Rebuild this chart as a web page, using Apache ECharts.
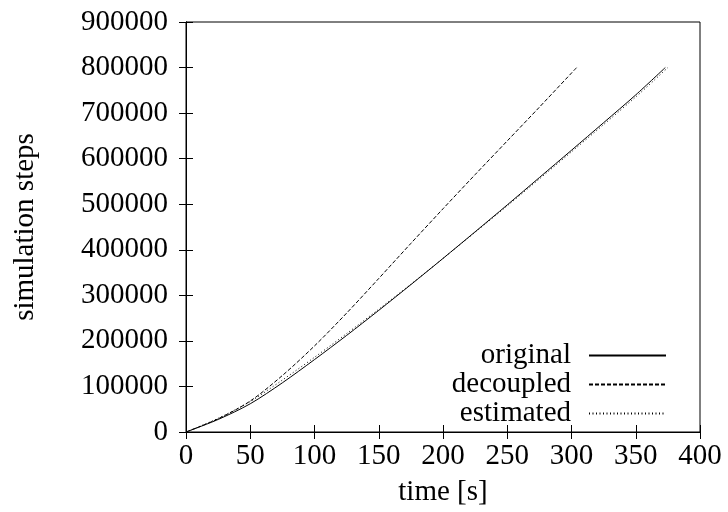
<!DOCTYPE html>
<html>
<head>
<meta charset="utf-8">
<script src="https://cdn.jsdelivr.net/npm/echarts@6/dist/echarts.min.js"></script>
<style>html,body{margin:0;padding:0;background:#fff;}#c{width:728px;height:512px;}</style>
</head>
<body>
<div id="c"></div>
<script>
var seriesNames = ['original', 'decoupled', 'estimated'];
var xTitle = 'time [s]';
var yTitle = 'simulation steps';

var originalT = [0, 25, 50, 75, 100, 125, 150, 175, 200, 225, 250, 275, 300, 325, 350, 373];
var originalV = [0, 27500, 62000, 108000, 159000, 212000, 267000, 323500, 381000, 439500, 498500, 558500, 618500, 679000, 740000, 800000];

var decoupledT = [0, 25, 50, 75, 100, 125, 150, 175, 200, 225, 250, 275, 304];
var decoupledV = [0, 29000, 68000, 124000, 189000, 261000, 337000, 414000, 490000, 565000, 639000, 713000, 800000];

var estimatedT = [0, 25, 50, 75, 100, 125, 150, 175, 200, 250, 300, 350, 375];
var estimatedV = [0, 30000, 67000, 114000, 164000, 216000, 269500, 324500, 381000, 496500, 615000, 735500, 800000];

function pairs(t, v) { return t.map(function (x, i) { return [x, v[i]]; }); }

var font = 'Liberation Serif';
var fs = 29;
var chart = echarts.init(document.getElementById('c'), null, { renderer: 'canvas' });
var tickStyle = { show: true, inside: true, length: 7, lineStyle: { color: '#000', width: 1 } };
chart.setOption({
  animation: false,
  backgroundColor: '#fff',
  textStyle: { fontFamily: font, color: '#000' },
  grid: { left: 186, right: 28, top: 22, bottom: 78, show: true, borderColor: '#000', borderWidth: 1, backgroundColor: 'transparent' },
  legend: {
    orient: 'vertical',
    align: 'right',
    right: 61,
    top: 341,
    padding: 0,
    itemWidth: 77,
    itemHeight: 14,
    itemGap: 0,
    itemStyle: { opacity: 0, borderWidth: 0 },
    textStyle: { fontFamily: font, fontSize: fs, color: '#000', lineHeight: 28.5, padding: [0, 13, 0, 0] },
    data: seriesNames
  },
  xAxis: [{
    type: 'value', min: 0, max: 400, interval: 50,
    name: xTitle, nameLocation: 'middle', nameGap: 46,
    nameTextStyle: { fontFamily: font, fontSize: fs, color: '#000' },
    axisLine: { show: true, onZero: false, lineStyle: { color: '#000', width: 1 } },
    axisTick: tickStyle,
    axisLabel: { fontFamily: font, fontSize: fs, color: '#000', margin: 10 },
    splitLine: { show: false }
  }, {
    type: 'value', min: 0, max: 400, interval: 50, position: 'top',
    axisLine: { show: true, lineStyle: { color: '#000', width: 1 } },
    axisTick: tickStyle, axisLabel: { show: false }, splitLine: { show: false }
  }],
  yAxis: [{
    type: 'value', min: 0, max: 900000, interval: 100000,
    name: yTitle, nameLocation: 'middle', nameGap: 146, nameRotate: 90,
    nameTextStyle: { fontFamily: font, fontSize: fs, color: '#000' },
    axisLine: { show: true, onZero: false, lineStyle: { color: '#000', width: 1 } },
    axisTick: tickStyle,
    axisLabel: { fontFamily: font, fontSize: fs, color: '#000', margin: 18, formatter: function (v) { return String(v); } },
    splitLine: { show: false }
  }, {
    type: 'value', min: 0, max: 900000, interval: 100000, position: 'right',
    axisLine: { show: true, lineStyle: { color: '#000', width: 1 } },
    axisTick: tickStyle, axisLabel: { show: false }, splitLine: { show: false }
  }],
  series: [{
    name: seriesNames[0], type: 'line', smooth: 0.3, symbol: 'none',
    lineStyle: { color: '#000', width: 1, type: 'solid' },
    itemStyle: { color: '#000' },
    data: pairs(originalT, originalV)
  }, {
    name: seriesNames[1], type: 'line', smooth: 0.3, symbol: 'none',
    lineStyle: { color: '#000', width: 1, type: [4, 2] },
    itemStyle: { color: '#000' },
    data: pairs(decoupledT, decoupledV)
  }, {
    name: seriesNames[2], type: 'line', smooth: 0.3, symbol: 'none',
    lineStyle: { color: '#000', width: 1, type: [1, 2.5] },
    itemStyle: { color: '#000' },
    data: pairs(estimatedT, estimatedV)
  }]
});
</script>
</body>
</html>
